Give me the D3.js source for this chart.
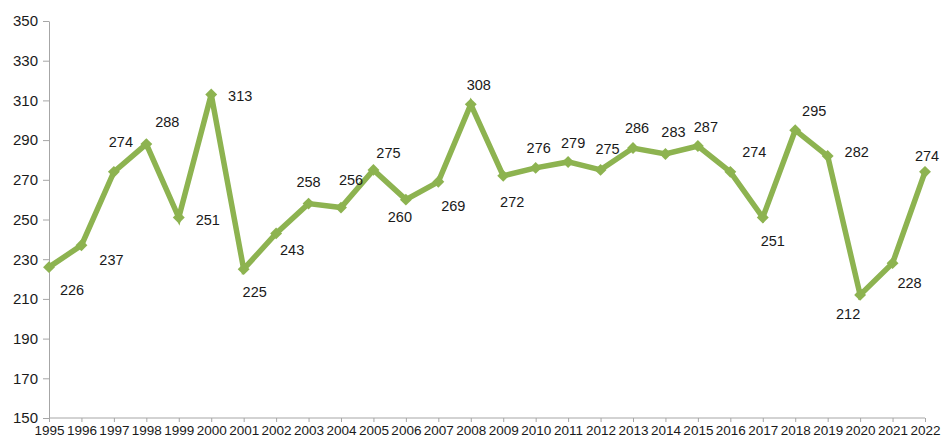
<!DOCTYPE html>
<html>
<head>
<meta charset="utf-8">
<script src="https://cdn.jsdelivr.net/npm/d3@7"></script>
<style>
  body { margin: 0; background: #fff; }
  text { font-family: "Liberation Sans", Arial, sans-serif; fill: #1a1a1a; }
</style>
</head>
<body>
<div id="chart"></div>
<script>
// data
let years = [1995, 1996, 1997, 1998, 1999, 2000, 2001, 2002, 2003, 2004,
             2005, 2006, 2007, 2008, 2009, 2010, 2011, 2012, 2013, 2014,
             2015, 2016, 2017, 2018, 2019, 2020, 2021, 2022];
let counts = [226, 237, 274, 288, 251, 313, 225, 243, 258, 256,
              275, 260, 269, 308, 272, 276, 279, 275, 286, 283,
              287, 274, 251, 295, 282, 212, 228, 274];
let yTicks = [150, 170, 190, 210, 230, 250, 270, 290, 310, 330, 350];

// where each value label sits relative to its point (dx, dy)
let labelOffsets = [
    [23, 23], [30, 15], [7, -30], [21, -22], [29, 2], [29, 1], [11, 23],
    [16, 17], [0, -22], [10, -28], [15, -17], [-6, 17], [15, 24], [8, -19],
    [9, 26], [3, -20], [5, -19], [7, -21], [4, -20], [8, -22], [8, -19],
    [24, -20], [10, 23], [19, -19], [29, -4], [-12, 19], [17, 20], [2, -16]
];

const width = 941, height = 439;
const green = "#8db350";

let svg = d3.select("#chart")
    .append("svg")
    .attr("width", width)
    .attr("height", height);

let x = d3.scalePoint()
    .domain(years)
    .range([49, 925]);

let y = d3.scaleLinear()
    .domain([150, 350])
    .range([418, 21]);

// y axis
let yAxis = svg.append("g")
    .attr("transform", "translate(49, 0)")
    .call(d3.axisLeft(y).tickValues(yTicks).tickSize(6).tickPadding(5).tickSizeOuter(0));
yAxis.selectAll("text").style("font-size", "15px").attr("fill", "#1a1a1a");

// x axis
let xAxis = svg.append("g")
    .attr("transform", "translate(0, 418)")
    .call(d3.axisBottom(x).tickSize(4).tickPadding(3).tickSizeOuter(0));
xAxis.selectAll("text").style("font-size", "13.5px").attr("fill", "#1a1a1a").attr("dy", "0.74em");

svg.selectAll(".domain, .tick line").attr("stroke", "#a6a6a6");
// extend x baseline to the last point
xAxis.select(".domain").attr("d", `M49,0H925`);

let data = years.map(function(yr, i) { return { year: yr, count: counts[i], off: labelOffsets[i] }; });

let line = d3.line()
    .x(function(d) { return x(d.year); })
    .y(function(d) { return y(d.count); });

svg.append("path")
    .datum(data)
    .attr("fill", "none")
    .attr("stroke", green)
    .attr("stroke-width", 5.5)
    .attr("stroke-linejoin", "miter")
    .attr("d", line);

svg.append("g")
    .selectAll("path")
    .data(data)
    .enter()
    .append("path")
    .attr("d", d3.symbol().type(d3.symbolDiamond2).size(90))
    .attr("transform", function(d) { return `translate(${x(d.year)}, ${y(d.count)})`; })
    .attr("fill", green);

svg.append("g")
    .selectAll("text")
    .data(data)
    .enter()
    .append("text")
    .attr("x", function(d) { return x(d.year) + d.off[0]; })
    .attr("y", function(d) { return y(d.count) + d.off[1]; })
    .attr("dy", "0.35em")
    .style("text-anchor", "middle")
    .style("font-size", "14.5px")
    .text(function(d) { return d.count; });
</script>
</body>
</html>
